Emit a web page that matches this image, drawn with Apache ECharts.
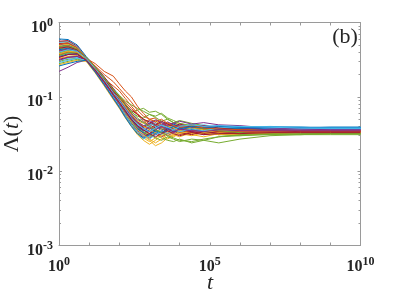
<!DOCTYPE html>
<html><head><meta charset="utf-8">
<script src="https://cdn.jsdelivr.net/npm/echarts@6/dist/echarts.min.js"></script>
<style>html,body{margin:0;padding:0;background:#fff}#c{width:399px;height:299px}</style>
</head><body><div id="c"></div>
<script>
// time grid, as exponents of t (t = 10^e)
const tExp = [0,0.3,0.6,0.9,1.2,1.5,1.8,2.0,2.2,2.4,2.6,2.8,3.0,3.2,3.4,3.6,3.8,4.0,4.4,4.8,5.3,6,7,8,9,10];
const lam01 = [0.60,0.59,0.50,0.35,0.255,0.185,0.125,0.095,0.07,0.052,0.044,0.040,0.037,0.041,0.038,0.035,0.039,0.036,0.038,0.035,0.037,0.036,0.037,0.038,0.038,0.038];
const lam02 = [0.55,0.56,0.47,0.33,0.28,0.22,0.19,0.15,0.12,0.10,0.075,0.06,0.05,0.052,0.042,0.038,0.045,0.04,0.036,0.039,0.035,0.037,0.034,0.036,0.035,0.035];
const lam03 = [0.52,0.54,0.46,0.34,0.25,0.17,0.115,0.085,0.062,0.047,0.036,0.030,0.026,0.022,0.024,0.028,0.031,0.029,0.033,0.032,0.034,0.033,0.034,0.033,0.034,0.034];
const lam04 = [0.22,0.25,0.29,0.31,0.215,0.145,0.095,0.072,0.054,0.043,0.035,0.031,0.036,0.033,0.038,0.04,0.036,0.041,0.038,0.036,0.039,0.037,0.036,0.035,0.036,0.036];
const lam05 = [0.30,0.32,0.33,0.32,0.23,0.16,0.11,0.085,0.07,0.062,0.066,0.07,0.062,0.064,0.058,0.05,0.045,0.042,0.038,0.034,0.031,0.030,0.032,0.031,0.032,0.032];
const lam06 = [0.45,0.47,0.42,0.33,0.25,0.18,0.13,0.105,0.08,0.06,0.048,0.05,0.044,0.04,0.046,0.043,0.039,0.042,0.04,0.038,0.037,0.039,0.038,0.037,0.037,0.037];
const lam07 = [0.40,0.43,0.40,0.32,0.235,0.16,0.105,0.08,0.06,0.045,0.038,0.033,0.03,0.034,0.029,0.032,0.035,0.031,0.034,0.033,0.031,0.033,0.032,0.033,0.033,0.033];
const lam08 = [0.48,0.50,0.44,0.34,0.245,0.17,0.115,0.09,0.066,0.05,0.04,0.035,0.04,0.036,0.033,0.037,0.034,0.038,0.035,0.037,0.036,0.035,0.036,0.037,0.037,0.037];
const lam09 = [0.36,0.40,0.39,0.32,0.24,0.175,0.14,0.12,0.095,0.075,0.06,0.05,0.043,0.048,0.04,0.044,0.038,0.041,0.037,0.04,0.036,0.038,0.036,0.035,0.035,0.035];
const lam10 = [0.33,0.35,0.36,0.32,0.22,0.15,0.1,0.075,0.056,0.042,0.033,0.028,0.025,0.028,0.031,0.027,0.030,0.033,0.031,0.029,0.032,0.031,0.032,0.033,0.033,0.033];
const lam11 = [0.50,0.52,0.45,0.34,0.25,0.18,0.125,0.1,0.078,0.06,0.05,0.045,0.048,0.043,0.039,0.042,0.045,0.04,0.037,0.035,0.038,0.036,0.035,0.036,0.036,0.036];
const lam12 = [0.28,0.30,0.32,0.31,0.22,0.15,0.1,0.078,0.058,0.045,0.037,0.033,0.029,0.032,0.028,0.026,0.025,0.027,0.024,0.026,0.029,0.031,0.032,0.033,0.032,0.032];
const lam13 = [0.42,0.45,0.41,0.33,0.24,0.165,0.11,0.085,0.064,0.05,0.042,0.046,0.04,0.037,0.041,0.038,0.042,0.039,0.043,0.04,0.038,0.037,0.039,0.038,0.038,0.038];
const lam14 = [0.56,0.57,0.48,0.34,0.25,0.175,0.12,0.092,0.072,0.056,0.046,0.038,0.034,0.031,0.035,0.032,0.036,0.033,0.031,0.034,0.033,0.032,0.034,0.034,0.034,0.034];
const lam15 = [0.38,0.41,0.39,0.31,0.225,0.155,0.1,0.078,0.058,0.044,0.036,0.04,0.044,0.041,0.036,0.039,0.037,0.035,0.039,0.037,0.035,0.036,0.037,0.038,0.039,0.039];
const lam16 = [0.46,0.48,0.43,0.33,0.245,0.17,0.115,0.088,0.068,0.052,0.041,0.036,0.032,0.036,0.04,0.035,0.033,0.036,0.033,0.035,0.034,0.035,0.034,0.034,0.034,0.034];
const lam17 = [0.40,0.42,0.40,0.32,0.235,0.165,0.11,0.087,0.067,0.055,0.048,0.044,0.05,0.047,0.042,0.045,0.041,0.044,0.04,0.037,0.039,0.036,0.035,0.034,0.035,0.035];
const lam18 = [0.34,0.37,0.37,0.31,0.225,0.155,0.105,0.082,0.063,0.048,0.038,0.032,0.028,0.031,0.034,0.03,0.033,0.036,0.034,0.031,0.033,0.035,0.034,0.034,0.034,0.034];
const lam19 = [0.44,0.46,0.42,0.33,0.24,0.17,0.12,0.095,0.075,0.062,0.055,0.052,0.058,0.053,0.047,0.05,0.045,0.048,0.044,0.041,0.038,0.037,0.034,0.033,0.033,0.033];
const lam20 = [0.31,0.33,0.34,0.31,0.22,0.15,0.098,0.074,0.055,0.041,0.032,0.027,0.03,0.034,0.031,0.035,0.038,0.036,0.039,0.041,0.038,0.04,0.039,0.038,0.038,0.038];
const lam21 = [0.52,0.53,0.46,0.34,0.255,0.185,0.13,0.1,0.078,0.058,0.045,0.039,0.042,0.038,0.043,0.04,0.037,0.04,0.036,0.038,0.035,0.036,0.035,0.035,0.035,0.035];
const lam22 = [0.35,0.38,0.38,0.31,0.23,0.16,0.105,0.08,0.06,0.046,0.037,0.033,0.036,0.032,0.035,0.038,0.035,0.033,0.036,0.034,0.036,0.037,0.038,0.038,0.038,0.038];
const lam23 = [0.42,0.44,0.41,0.32,0.24,0.17,0.118,0.1,0.085,0.07,0.058,0.047,0.041,0.045,0.038,0.034,0.037,0.033,0.035,0.037,0.034,0.035,0.035,0.036,0.035,0.035];
const lam24 = [0.27,0.29,0.31,0.30,0.21,0.14,0.092,0.07,0.052,0.04,0.031,0.026,0.023,0.026,0.03,0.033,0.031,0.034,0.032,0.035,0.033,0.034,0.033,0.033,0.033,0.033];
const lam25 = [0.47,0.49,0.43,0.33,0.245,0.175,0.12,0.093,0.071,0.054,0.043,0.038,0.034,0.038,0.042,0.046,0.042,0.039,0.042,0.039,0.041,0.038,0.036,0.036,0.036,0.036];
const lam26 = [0.39,0.42,0.40,0.32,0.23,0.16,0.108,0.083,0.063,0.048,0.039,0.034,0.031,0.028,0.026,0.029,0.027,0.025,0.027,0.026,0.024,0.027,0.03,0.031,0.032,0.032];
const lam27 = [0.54,0.55,0.47,0.34,0.25,0.178,0.122,0.094,0.072,0.055,0.044,0.037,0.041,0.045,0.041,0.038,0.041,0.043,0.04,0.042,0.039,0.04,0.038,0.037,0.037,0.037];
const lam28 = [0.32,0.34,0.35,0.31,0.22,0.148,0.098,0.075,0.057,0.043,0.034,0.029,0.032,0.036,0.033,0.037,0.034,0.037,0.034,0.032,0.034,0.033,0.033,0.034,0.034,0.034];
const lam29 = [0.43,0.45,0.41,0.32,0.235,0.165,0.112,0.087,0.066,0.05,0.04,0.035,0.038,0.034,0.037,0.04,0.043,0.039,0.037,0.039,0.037,0.038,0.039,0.039,0.038,0.038];
const lam30 = [0.37,0.40,0.39,0.31,0.23,0.16,0.108,0.085,0.066,0.053,0.045,0.041,0.037,0.041,0.045,0.04,0.036,0.038,0.04,0.036,0.035,0.034,0.034,0.035,0.035,0.035];
const lam31 = [0.49,0.51,0.45,0.34,0.25,0.178,0.12,0.096,0.074,0.058,0.047,0.04,0.036,0.033,0.037,0.041,0.038,0.035,0.038,0.036,0.035,0.036,0.035,0.034,0.034,0.034];
const lam32 = [0.41,0.44,0.41,0.33,0.24,0.168,0.114,0.09,0.07,0.054,0.046,0.041,0.044,0.049,0.045,0.041,0.044,0.047,0.043,0.045,0.042,0.041,0.038,0.037,0.036,0.036];
const lam33 = [0.36,0.39,0.39,0.32,0.235,0.17,0.125,0.105,0.088,0.078,0.07,0.064,0.058,0.055,0.06,0.052,0.048,0.044,0.041,0.037,0.035,0.033,0.031,0.031,0.031,0.031];
const lam34 = [0.29,0.31,0.33,0.31,0.225,0.152,0.1,0.076,0.057,0.043,0.034,0.03,0.027,0.031,0.035,0.032,0.036,0.034,0.037,0.035,0.038,0.039,0.04,0.039,0.038,0.038];
const lam35 = [0.45,0.47,0.43,0.33,0.245,0.172,0.12,0.098,0.08,0.066,0.058,0.05,0.046,0.042,0.047,0.043,0.04,0.043,0.039,0.041,0.038,0.036,0.035,0.034,0.034,0.034];
const lam36 = [0.26,0.28,0.30,0.31,0.215,0.145,0.095,0.072,0.053,0.04,0.032,0.028,0.031,0.035,0.033,0.036,0.04,0.037,0.04,0.038,0.04,0.039,0.039,0.039,0.039,0.039];
const lam37 = [0.51,0.53,0.46,0.34,0.26,0.2,0.16,0.13,0.105,0.085,0.066,0.055,0.05,0.046,0.05,0.044,0.041,0.039,0.042,0.038,0.037,0.036,0.035,0.035,0.035,0.035];
const lam38 = [0.38,0.41,0.40,0.32,0.23,0.158,0.105,0.08,0.06,0.046,0.036,0.031,0.027,0.024,0.027,0.031,0.029,0.032,0.03,0.033,0.031,0.032,0.033,0.033,0.033,0.033];
const lam39 = [0.31,0.34,0.35,0.32,0.225,0.155,0.104,0.08,0.062,0.049,0.04,0.035,0.039,0.036,0.04,0.037,0.034,0.037,0.035,0.034,0.036,0.035,0.035,0.035,0.035,0.035];
const lam40 = [0.47,0.49,0.44,0.34,0.25,0.18,0.125,0.1,0.08,0.064,0.052,0.045,0.04,0.036,0.033,0.03,0.028,0.026,0.025,0.027,0.029,0.03,0.031,0.032,0.032,0.032];
const lam41 = [0.40,0.43,0.41,0.33,0.24,0.168,0.113,0.088,0.068,0.052,0.042,0.037,0.034,0.038,0.042,0.039,0.036,0.04,0.042,0.04,0.041,0.04,0.039,0.038,0.038,0.038];
const lam42 = [0.34,0.37,0.38,0.31,0.23,0.16,0.108,0.084,0.065,0.05,0.041,0.036,0.032,0.029,0.032,0.035,0.032,0.03,0.033,0.031,0.032,0.032,0.033,0.033,0.033,0.033];
const allCurves = [lam01,lam02,lam03,lam04,lam05,lam06,lam07,lam08,lam09,lam10,lam11,lam12,lam13,lam14,lam15,lam16,lam17,lam18,lam19,lam20,lam21,lam22,lam23,lam24,lam25,lam26,lam27,lam28,lam29,lam30,lam31,lam32,lam33,lam34,lam35,lam36,lam37,lam38,lam39,lam40,lam41,lam42];
const xTicks = [1,1e1,1e2,1e3,1e4,1e5,1e6,1e7,1e8,1e9,1e10];
const xLabels = [1,1e5,1e10];
const yTicks = [1e-3,1e-2,1e-1,1];
const yMinor = [0.002,0.003,0.004,0.005,0.006,0.007,0.008,0.009,0.02,0.03,0.04,0.05,0.06,0.07,0.08,0.09,0.2,0.3,0.4,0.5,0.6,0.7,0.8,0.9];
const palette = ['#0072BD','#D95319','#EDB120','#7E2F8E','#77AC30','#4DBEEE','#A2142F'];

const serif = 'Liberation Serif, Times New Roman, serif';
const axisCol = '#9a9a9a';
const txtCol = '#262626';
function powLabel(v){ const e = Math.round(Math.log10(v)); return '{b|10}{s|' + e + '}'; }
const rich = {
  b:{fontFamily:serif,fontWeight:'bold',fontSize:16,color:txtCol,padding:[5,0,0,0],lineHeight:17},
  s:{fontFamily:serif,fontWeight:'bold',fontSize:12,color:txtCol,verticalAlign:'top',lineHeight:12}
};
function xAx(pos, show){
  return {type:'log',logBase:10,min:1,max:1e10,position:pos,
    axisLine:{show:true,lineStyle:{color:axisCol,width:1}},
    axisTick:{show:true,inside:true,length:3,customValues:xTicks,lineStyle:{color:axisCol}},
    axisLabel:{show:show,customValues:xLabels,formatter:powLabel,rich:rich,margin:10},
    splitLine:{show:false},minorTick:{show:false}
  };
}
function yAx(pos, minor, show){
  return {type:'log',logBase:10,min:0.001,max:1,position:pos,
    axisLine:{show:!minor,lineStyle:{color:axisCol,width:1}},
    axisTick:{show:true,inside:true,length:minor?2:3,customValues:minor?yMinor:yTicks,lineStyle:{color:axisCol}},
    axisLabel:{show:show,customValues:yTicks,formatter:powLabel,rich:rich,margin:6,padding:[5,0,0,0]},
    splitLine:{show:false},minorTick:{show:false}
  };
}
const series = allCurves.map(function(vals, i){
  return {type:'line',xAxisIndex:0,yAxisIndex:0,showSymbol:false,symbol:'none',
    lineStyle:{width:1,color:palette[i % palette.length]},
    data: vals.map(function(v, j){ return [Math.pow(10, tExp[j]), v]; }),
    silent:true, animation:false, z:2};
});
const chart = echarts.init(document.getElementById('c'), null, {renderer:'canvas'});
chart.setOption({
  animation:false,
  backgroundColor:'#fff',
  grid:{left:59,right:38.5,top:22.5,bottom:53.5,containLabel:false},
  xAxis:[xAx('bottom',true), xAx('top',false)],
  yAxis:[yAx('left',false,true), yAx('left',true,false), yAx('right',false,false), yAx('right',true,false)],
  graphic:[
    {type:'text',x:345,y:37,style:{text:'(b)',font:'22px '+serif,fill:txtCol,align:'center',verticalAlign:'middle'}},
    {type:'text',x:210,y:283,style:{text:'t',font:'italic 22px '+serif,fill:txtCol,align:'center',verticalAlign:'middle'}},
    {type:'text',x:12,y:134,rotation:Math.PI/2,style:{text:'{n|Λ(}{i|t}{n|)}',align:'center',verticalAlign:'middle',
      rich:{n:{fontFamily:serif,fontSize:22,fill:txtCol,color:txtCol},i:{fontFamily:serif,fontStyle:'italic',fontSize:22,fill:txtCol,color:txtCol}}}}
  ],
  series: series
});
</script></body></html>
